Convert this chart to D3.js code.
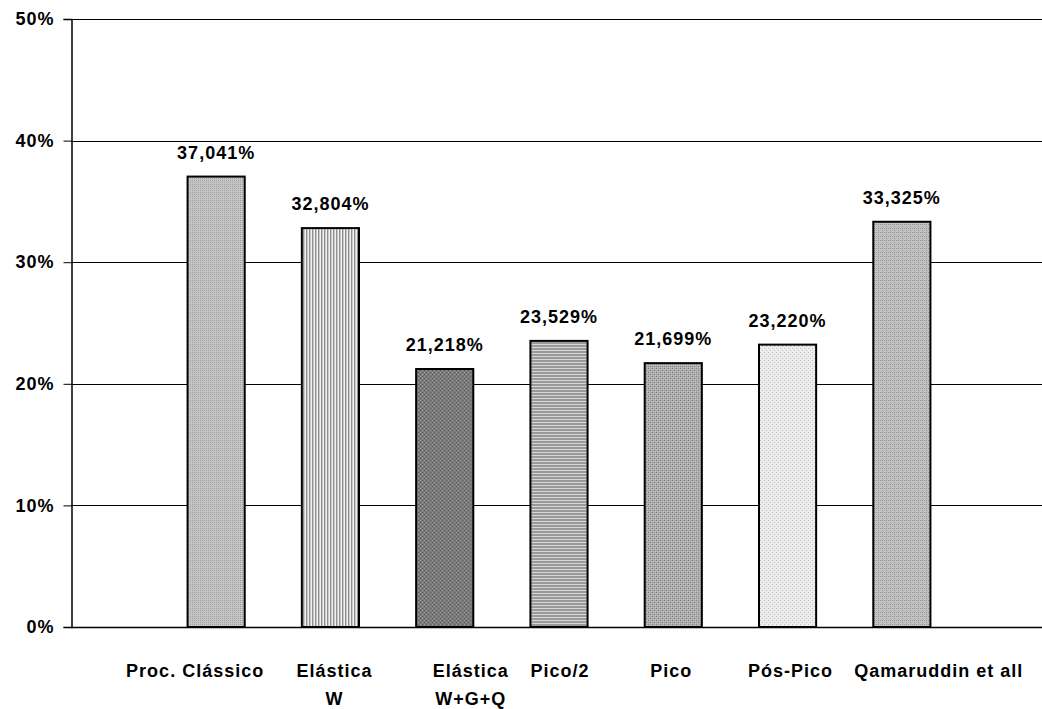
<!DOCTYPE html>
<html>
<head>
<meta charset="utf-8">
<script src="https://cdn.jsdelivr.net/npm/d3@7"></script>
<style>
  html, body { margin: 0; padding: 0; background: #fff; }
  svg { display: block; }
  text { font-family: "Liberation Sans", Arial, sans-serif; font-weight: bold; fill: #000; }
</style>
</head>
<body>
<svg id="chart" width="1042" height="709"></svg>
<script>
// Categories (each may wrap onto two lines)
const categories = ["Proc. Clássico", "Elástica W", "Elástica W+G+Q", "Pico/2", "Pico", "Pós-Pico", "Qamaruddin et all"];
const categoryLines = [["Proc. Clássico"], ["Elástica", "W"], ["Elástica", "W+G+Q"], ["Pico/2"], ["Pico"], ["Pós-Pico"], ["Qamaruddin et all"]];
// Values in percent
const values = [37.041, 32.804, 21.218, 23.529, 21.699, 23.220, 33.325];
// Y axis ticks (percent)
const yTicks = [0, 10, 20, 30, 40, 50];

// Horizontal nudges for the wrapped category labels
const labelNudge = [-21, 4, 26, 1, -2, 3, 37];

const W = 1042, H = 709;
const plot = { left: 71, right: 1042, top: 19, bottom: 627 };

const svg = d3.select("#chart");

const pt = d3.formatLocale({ decimal: ",", thousands: ".", grouping: [3], currency: ["", ""] });
const fmtValue = pt.format(".3%");
const fmtTick = pt.format(".0%");

const x = d3.scaleBand()
  .domain(categories)
  .range([159, 959])
  .paddingInner(0.5)
  .paddingOuter(0.25);

const y = d3.scaleLinear().domain([0, 50]).range([plot.bottom, plot.top]);

// Fill patterns for the bars
const defs = svg.append("defs");
function pattern(id, w, h, bg, draw) {
  const p = defs.append("pattern").attr("id", id)
    .attr("patternUnits", "userSpaceOnUse").attr("width", w).attr("height", h);
  p.append("rect").attr("width", w).attr("height", h).attr("fill", bg);
  draw(p);
}
function dots(p, pts, color) {
  pts.forEach(([a, b]) => p.append("rect").attr("x", a).attr("y", b).attr("width", 1).attr("height", 1).attr("fill", color));
}
// fine dotted light gray
pattern("p0", 4, 4, "#c6c6c6", p => dots(p, [[0, 0], [2, 2], [2, 0], [0, 2]], "#a0a0a0"));
// vertical stripes
pattern("p1", 3, 3, "#f2f2f2", p => p.append("rect").attr("x", 0).attr("width", 1.4).attr("height", 3).attr("fill", "#8e8e8e"));
// dark dotted
pattern("p2", 4, 4, "#7a7a7a", p => { dots(p, [[0, 0], [2, 2]], "#9c9c9c"); dots(p, [[2, 0], [0, 2]], "#5c5c5c"); });
// horizontal stripes
pattern("p3", 3, 3, "#d6d6d6", p => p.append("rect").attr("y", 0).attr("width", 3).attr("height", 2).attr("fill", "#9a9a9a"));
// checker grid
pattern("p4", 4, 4, "#a6a6a6", p => { dots(p, [[1, 1], [3, 3], [1, 3], [3, 1]], "#c8c8c8"); dots(p, [[0, 0], [2, 2]], "#888"); });
// very light dotted
pattern("p5", 4, 4, "#ececec", p => dots(p, [[0, 0], [2, 2]], "#c2c2c2"));
// fine dotted mid gray
pattern("p6", 4, 4, "#c2c2c2", p => dots(p, [[0, 0], [2, 2], [2, 0]], "#969696"));

const fills = categories.map((c, i) => `url(#p${i})`);

// Gridlines
svg.append("g")
  .selectAll("line")
  .data(yTicks)
  .join("line")
  .attr("x1", plot.left).attr("x2", plot.right)
  .attr("y1", d => Math.round(y(d)) + 0.5).attr("y2", d => Math.round(y(d)) + 0.5)
  .attr("stroke", "#000").attr("stroke-width", 1);

// Y axis
const yAxis = d3.axisLeft(y)
  .tickValues(yTicks)
  .tickSize(8)
  .tickPadding(9)
  .tickFormat(d => fmtTick(d / 100));

const gy = svg.append("g")
  .attr("transform", `translate(${plot.left + 0.5},0)`)
  .call(yAxis);
gy.select(".domain").attr("stroke", "#000").attr("stroke-width", 1.5);
gy.selectAll(".tick line").attr("stroke", "#000");
gy.selectAll(".tick text")
  .attr("font-size", 18)
  .style("letter-spacing", "1px")
  .attr("font-family", "'Liberation Sans', Arial, sans-serif")
  .attr("font-weight", "bold")
  .attr("fill", "#000");

// Bars
svg.append("g")
  .selectAll("rect")
  .data(values)
  .join("rect")
  .attr("x", (d, i) => x(categories[i]))
  .attr("y", d => y(d))
  .attr("width", x.bandwidth())
  .attr("height", d => y(0) - y(d))
  .attr("fill", (d, i) => fills[i])
  .attr("stroke", "#000")
  .attr("stroke-width", 2);

// Value labels
svg.append("g")
  .selectAll("text")
  .data(values)
  .join("text")
  .attr("x", (d, i) => x(categories[i]) + x.bandwidth() / 2)
  .attr("y", d => y(d) - 18)
  .attr("text-anchor", "middle")
  .attr("font-size", 18)
  .style("letter-spacing", "1px")
  .text(d => fmtValue(d / 100));

// X baseline
svg.append("line")
  .attr("x1", plot.left).attr("x2", plot.right)
  .attr("y1", y(0) + 0.5).attr("y2", y(0) + 0.5)
  .attr("stroke", "#000").attr("stroke-width", 1.5);

// Category labels
const cl = svg.append("g")
  .selectAll("text")
  .data(categoryLines)
  .join("text")
  .attr("text-anchor", "middle")
  .attr("font-size", 18)
  .style("letter-spacing", "1px")
  .attr("transform", (d, i) => `translate(${x(categories[i]) + x.bandwidth() / 2 + labelNudge[i]},677)`);
cl.selectAll("tspan")
  .data(d => d)
  .join("tspan")
  .attr("x", 0)
  .attr("y", (d, j) => j * 28)
  .text(d => d);
</script>
</body>
</html>
